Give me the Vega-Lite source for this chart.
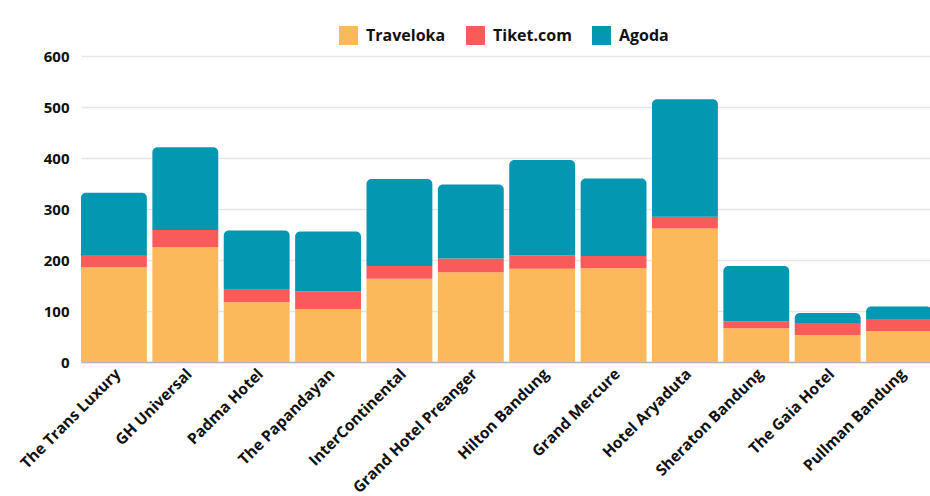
{
  "$schema": "https://vega.github.io/schema/vega-lite/v6.json",
  "autosize": "none",
  "padding": {"left": 81, "top": 56, "right": 0, "bottom": 134},
  "width": 851,
  "height": 306,
  "background": "white",
  "config": {
    "font": "Open Sans",
    "view": {"stroke": null},
    "axis": {"labelFont": "Open Sans", "labelFontWeight": "bold", "labelColor": "#111111"}
  },
  "data": {
    "values": [
      {"hotel": "The Trans Luxury", "platform": "Traveloka", "value": 186},
      {"hotel": "The Trans Luxury", "platform": "Tiket.com", "value": 24},
      {"hotel": "The Trans Luxury", "platform": "Agoda", "value": 122},
      {"hotel": "GH Universal", "platform": "Traveloka", "value": 225},
      {"hotel": "GH Universal", "platform": "Tiket.com", "value": 34},
      {"hotel": "GH Universal", "platform": "Agoda", "value": 162},
      {"hotel": "Padma Hotel", "platform": "Traveloka", "value": 117},
      {"hotel": "Padma Hotel", "platform": "Tiket.com", "value": 26},
      {"hotel": "Padma Hotel", "platform": "Agoda", "value": 115},
      {"hotel": "The Papandayan", "platform": "Traveloka", "value": 104},
      {"hotel": "The Papandayan", "platform": "Tiket.com", "value": 34},
      {"hotel": "The Papandayan", "platform": "Agoda", "value": 118},
      {"hotel": "InterContinental", "platform": "Traveloka", "value": 163},
      {"hotel": "InterContinental", "platform": "Tiket.com", "value": 25},
      {"hotel": "InterContinental", "platform": "Agoda", "value": 171},
      {"hotel": "Grand Hotel Preanger", "platform": "Traveloka", "value": 176},
      {"hotel": "Grand Hotel Preanger", "platform": "Tiket.com", "value": 27},
      {"hotel": "Grand Hotel Preanger", "platform": "Agoda", "value": 145},
      {"hotel": "Hilton Bandung", "platform": "Traveloka", "value": 183},
      {"hotel": "Hilton Bandung", "platform": "Tiket.com", "value": 26},
      {"hotel": "Hilton Bandung", "platform": "Agoda", "value": 187},
      {"hotel": "Grand Mercure", "platform": "Traveloka", "value": 184},
      {"hotel": "Grand Mercure", "platform": "Tiket.com", "value": 24},
      {"hotel": "Grand Mercure", "platform": "Agoda", "value": 152},
      {"hotel": "Hotel Aryaduta", "platform": "Traveloka", "value": 262},
      {"hotel": "Hotel Aryaduta", "platform": "Tiket.com", "value": 23},
      {"hotel": "Hotel Aryaduta", "platform": "Agoda", "value": 230},
      {"hotel": "Sheraton Bandung", "platform": "Traveloka", "value": 66},
      {"hotel": "Sheraton Bandung", "platform": "Tiket.com", "value": 14},
      {"hotel": "Sheraton Bandung", "platform": "Agoda", "value": 108},
      {"hotel": "The Gaia Hotel", "platform": "Traveloka", "value": 53},
      {"hotel": "The Gaia Hotel", "platform": "Tiket.com", "value": 22},
      {"hotel": "The Gaia Hotel", "platform": "Agoda", "value": 21},
      {"hotel": "Pullman Bandung", "platform": "Traveloka", "value": 61},
      {"hotel": "Pullman Bandung", "platform": "Tiket.com", "value": 22},
      {"hotel": "Pullman Bandung", "platform": "Agoda", "value": 26}
    ]
  },
  "transform": [
    {
      "stack": "value",
      "groupby": ["hotel"],
      "sort": [{"field": "platform", "order": "descending"}],
      "as": ["y0", "y1"]
    }
  ],
  "encoding": {
    "x": {
      "field": "hotel",
      "type": "nominal",
      "sort": null,
      "title": null,
      "scale": {"paddingInner": 0.077, "paddingOuter": 0},
      "axis": {
        "labelAngle": -45,
        "labelAlign": "right",
        "labelBaseline": "middle",
        "labelFontSize": 15.5,
        "labelPadding": 9,
        "labelOffset": 4,
        "ticks": false,
        "domainColor": "#b5b5b5",
        "domainWidth": 1.5
      }
    },
    "y": {
      "field": "y1",
      "type": "quantitative",
      "title": null,
      "scale": {"domain": [0, 600], "nice": false},
      "axis": {
        "values": [0, 100, 200, 300, 400, 500, 600],
        "labelFontSize": 15,
        "labelPadding": 12,
        "domain": false,
        "ticks": false,
        "gridColor": "#e6e6e6",
        "gridWidth": 1.5
      }
    },
    "y2": {"field": "y0"},
    "color": {
      "field": "platform",
      "type": "nominal",
      "title": null,
      "scale": {
        "domain": ["Traveloka", "Tiket.com", "Agoda"],
        "range": ["#fcb95b", "#f95a5a", "#0497b2"]
      },
      "legend": {
        "orient": "none",
        "direction": "horizontal",
        "legendX": 258,
        "legendY": -30,
        "symbolType": "square",
        "symbolSize": 360,
        "symbolStrokeWidth": 0,
        "labelFont": "Open Sans",
        "labelFontWeight": "bold",
        "labelFontSize": 16,
        "labelColor": "#111111",
        "labelOffset": 8,
        "columnPadding": 20
      }
    }
  },
  "layer": [
    {
      "transform": [{"filter": "datum.platform !== 'Agoda'"}],
      "mark": {"type": "bar"}
    },
    {
      "transform": [{"filter": "datum.platform === 'Agoda'"}],
      "mark": {"type": "bar", "cornerRadiusTopLeft": 5, "cornerRadiusTopRight": 5}
    }
  ]
}
